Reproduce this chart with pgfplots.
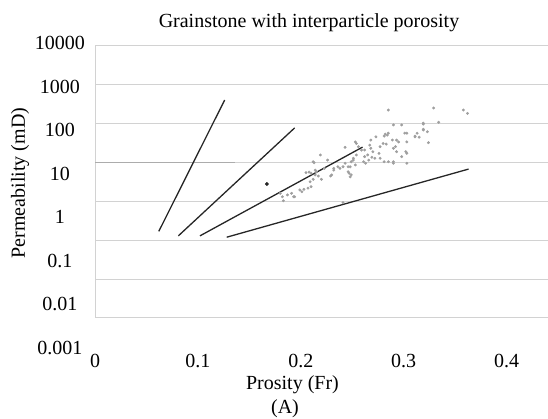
\documentclass[border=0pt]{standalone}
\usepackage{fontspec}
\setmainfont{Liberation Serif}
\usepackage{pgfplots}
\pgfplotsset{compat=1.18}
\begin{document}
\begin{tikzpicture}[font=\fontsize{20}{24}\selectfont]
\begin{axis}[
  at={(0pt,0pt)}, anchor=south west,
  scale only axis, width=453pt, height=272pt,
  xmin=0, xmax=0.4402, ymode=log, ymin=0.001, ymax=10000,
  enlargelimits=false,
  axis x line*=bottom, axis y line*=left,
  x axis line style={draw=none},
  y axis line style={draw=gray!35, line width=1pt},
  major tick length=0pt, minor tick length=0pt,
  ytick={0.001,0.01,0.1,1,10,100,1000,10000},
  yticklabels={},
  minor ytick={},
  ymajorgrids,
  grid style={gray!35, line width=1pt},
  xtick={0,0.1,0.2,0.3,0.4},
  xticklabels={0,0.1,0.2,0.3,0.4},
  xticklabel style={anchor=base, inner sep=0pt, yshift=-50pt},
  clip=false,
]
\addplot[gray!65, line width=1pt] coordinates {(0,10) (0.136,10)};
% scatter data
\addplot[only marks, mark=*, mark size=1.25pt, color=gray!75] table {
x y
0.183 1.04
0.182 1.32
0.187 1.47
0.191 1.62
0.194 1.32
0.193 1.32
0.199 1.97
0.201 1.78
0.203 2.05
0.207 2.2
0.210 2.4
0.209 3.2
0.212 3.7
0.205 5.5
0.208 5.7
0.210 5.3
0.214 4.8
0.215 5.8
0.217 4.5
0.213 9.9
0.219 15.7
0.223 7.1
0.226 11.6
0.229 4.5
0.232 7.1
0.236 7.8
0.220 3.7
0.180 1.62
0.285 225
0.290 93
0.298 93
0.285 57
0.282 54
0.281 48
0.289 38
0.293 38
0.303 57
0.303 34
0.313 57
0.303 17.3
0.303 9.6
0.292 25.6
0.290 23.3
0.295 34
0.283 30
0.277 25.6
0.280 31
0.273 46
0.268 38
0.268 23.3
0.270 19
0.265 15.7
0.266 11.6
0.261 10.5
0.263 9.6
0.269 13.7
0.277 12.9
0.281 10.5
0.285 10.5
0.290 9.6
0.254 31
0.253 34
0.256 25.6
0.259 21
0.262 21
0.254 15.7
0.251 12.9
0.249 10.5
0.253 8.7
0.248 7.8
0.246 5.8
0.249 4.8
0.243 9.6
0.241 7.8
0.238 7.1
0.230 4.8
0.267 28
0.276 17.3
0.293 19
0.298 14.2
0.329 254
0.358 225
0.362 185
0.334 109
0.319 98
0.319 72
0.323 62
0.311 48
0.315 45
0.324 32.5
0.212 10.5
0.214 6.4
0.232 6.4
0.247 5.3
0.248 4.3
0.251 11.6
0.262 14.2
0.272 12.9
0.284 51
0.301 57
0.302 19
0.311 46
0.319 103
0.319 69
0.243 24.7
0.246 7.8
0.241 0.93
0.290 10.5
};
\addplot[only marks, mark=*, mark size=1.7pt, color=gray!30!black] coordinates {(0.167,2.8)};
% trend lines
\addplot[black!85, line width=1.3pt] coordinates {(0.062,0.17) (0.126,407)};
\addplot[black!85, line width=1.3pt] coordinates {(0.081,0.13) (0.194,78)};
\addplot[black!85, line width=1.3pt] coordinates {(0.102,0.13) (0.260,25)};
\addplot[black!85, line width=1.3pt] coordinates {(0.128,0.12) (0.363,6.8)};
\end{axis}
\begin{axis}[
  at={(0pt,-30pt)}, anchor=south west,
  scale only axis, width=453pt, height=305pt,
  xmin=0, xmax=1, ymode=log, ymin=0.001, ymax=10000,
  enlargelimits=false,
  hide x axis, axis y line*=left,
  y axis line style={draw=none},
  major tick length=0pt, minor tick length=0pt, minor ytick={},
  ytick={0.001,0.01,0.1,1,10,100,1000,10000},
  yticklabels={0.001,0.01,0.1,1,10,100,1000,10000},
  yticklabel style={anchor=center, inner sep=0pt, xshift=-35pt},
]
\end{axis}
\node[anchor=base] at (214pt,290pt) {Grainstone with interparticle porosity};
\node[anchor=center, rotate=90] at (-75pt,135pt) {Permeability (mD)};
\node[anchor=base] at (197.5pt,-72pt) {Prosity (Fr)};
\node[anchor=base] at (190pt,-96pt) {(A)};
\pgfresetboundingbox
\path[use as bounding box] (-95pt,-101pt) rectangle (453pt,318pt);
\end{tikzpicture}
\end{document}
